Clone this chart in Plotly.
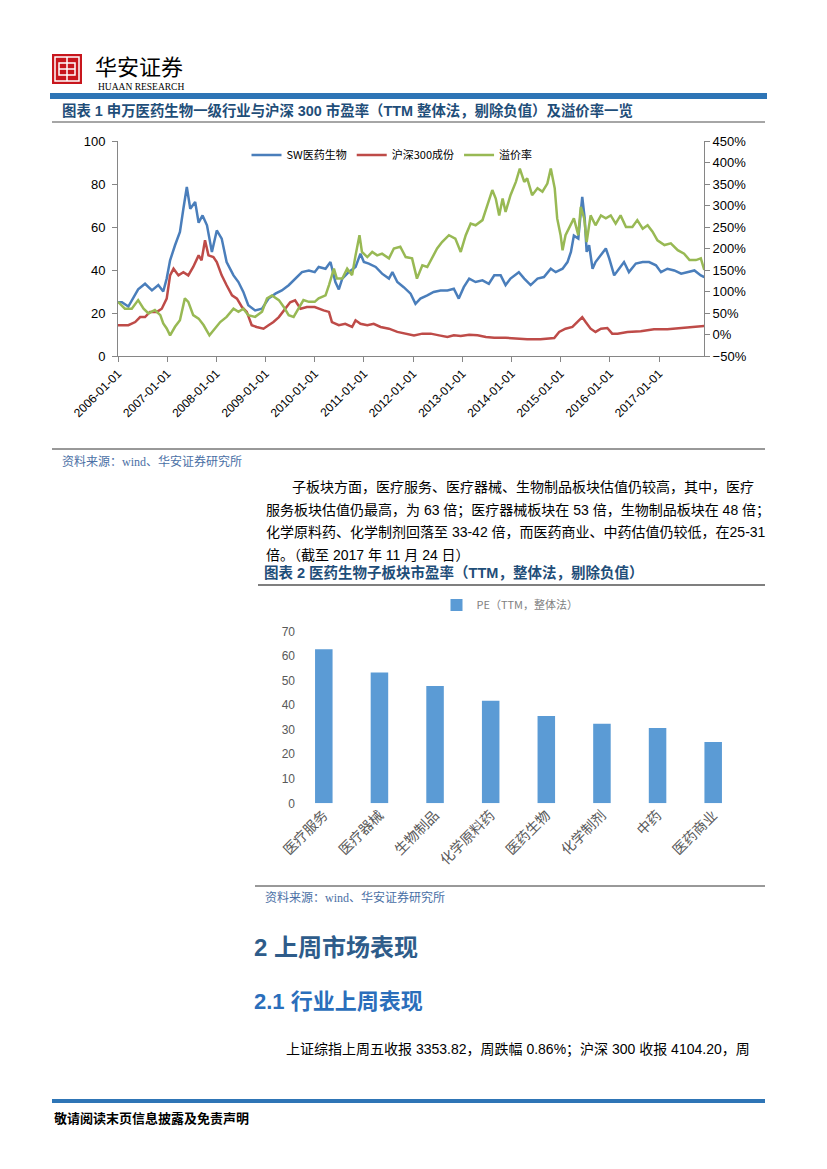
import pandas as pd
import plotly.graph_objects as go

W, H = 827, 1169
OFF = 8  # page body margin in the browser

# ---- 图表1 数据（从图上读出，x 为年份小数）----
sw_year = [2006.00, 2006.08, 2006.21, 2006.41, 2006.55, 2006.69, 2006.82, 2006.92, 2006.99, 2007.06,
           2007.16, 2007.26, 2007.33, 2007.40, 2007.47, 2007.57, 2007.64, 2007.72, 2007.81, 2007.91,
           2008.01, 2008.11, 2008.21, 2008.35, 2008.45, 2008.55, 2008.65, 2008.79, 2008.93, 2009.06,
           2009.20, 2009.33, 2009.47, 2009.61, 2009.74, 2009.88, 2010.00, 2010.08, 2010.22, 2010.32,
           2010.42, 2010.49, 2010.56, 2010.69, 2010.83, 2010.93, 2011.00, 2011.10, 2011.24, 2011.37,
           2011.51, 2011.58, 2011.68, 2011.81, 2011.95, 2012.05, 2012.15, 2012.29, 2012.42, 2012.56,
           2012.70, 2012.83, 2012.93, 2013.03, 2013.14, 2013.27, 2013.41, 2013.54, 2013.65, 2013.78,
           2013.88, 2013.98, 2014.15, 2014.26, 2014.39, 2014.53, 2014.66, 2014.80, 2014.90, 2015.04,
           2015.14, 2015.21, 2015.27, 2015.36, 2015.40, 2015.44, 2015.49, 2015.53, 2015.58, 2015.65,
           2015.71, 2015.82, 2015.92, 2015.99, 2016.09, 2016.19, 2016.29, 2016.39, 2016.53, 2016.67,
           2016.80, 2016.94, 2017.04, 2017.17, 2017.31, 2017.45, 2017.58, 2017.72, 2017.85, 2017.92]
sw_pe = [25, 25, 23, 31, 33.6, 30.5, 33, 30, 36, 44.5,
         51.5, 57.7, 68.5, 78.6, 68.5, 71.6, 62, 65.4, 60.8, 48.4,
         58.4, 54.6, 43.7, 37.5, 34.4, 29.8, 23.6, 21.2, 22, 26.7,
         29, 30.5, 32.9, 36, 39, 39.8, 39, 41.4, 40.6, 43.7,
         34.4, 31, 36, 39, 41.4, 47.6, 43.7, 43, 41.4, 38.3,
         36, 39, 34.4, 32, 29, 24.3, 26.7, 28.2, 29.8, 30.5,
         30.5, 31.3, 26.7, 32, 36, 34.4, 35.2, 33.6, 37.5, 37.5,
         33, 36, 39, 36, 33, 36, 36.7, 40.6, 39, 40.6,
         43.7, 48.4, 56, 54.6, 65.4, 74, 64, 48.4, 51.5, 40.6,
         43.7, 46.8, 50, 45.3, 37.5, 40.6, 43.7, 39, 43, 43.7,
         43.7, 42.2, 39, 40.6, 39.8, 38.3, 39, 39.8, 37.5, 36.7]

hs_year = [2006.00, 2006.21, 2006.35, 2006.45, 2006.55, 2006.65, 2006.79, 2006.89, 2006.99, 2007.06,
           2007.13, 2007.23, 2007.33, 2007.43, 2007.53, 2007.64, 2007.70, 2007.77, 2007.84, 2007.94,
           2008.01, 2008.11, 2008.21, 2008.32, 2008.42, 2008.52, 2008.62, 2008.72, 2008.82, 2008.96,
           2009.06, 2009.16, 2009.27, 2009.40, 2009.50, 2009.60, 2009.71, 2009.84, 2010.00, 2010.18,
           2010.29, 2010.35, 2010.49, 2010.62, 2010.76, 2010.83, 2010.93, 2011.07, 2011.20, 2011.34,
           2011.51, 2011.68, 2011.85, 2012.02, 2012.19, 2012.36, 2012.53, 2012.70, 2012.83, 2012.97,
           2013.14, 2013.31, 2013.48, 2013.65, 2013.88, 2014.05, 2014.32, 2014.59, 2014.87, 2014.97,
           2015.10, 2015.24, 2015.38, 2015.44, 2015.51, 2015.61, 2015.71, 2015.82, 2015.95, 2016.05,
           2016.16, 2016.36, 2016.63, 2016.90, 2017.17, 2017.45, 2017.72, 2017.92]
hs_pe = [14.3, 14.3, 15.8, 18.1, 18.1, 20.5, 20.5, 22, 26.7, 37.5,
         40.6, 37.5, 39, 37.5, 41.4, 46.8, 44.5, 53.8, 46.8, 46,
         43.7, 37.5, 32.9, 28.2, 26.7, 22.8, 20.5, 14.3, 13.5, 12.7,
         14.3, 15.8, 18.1, 22, 25, 25.9, 22, 22.8, 22.8, 21.2,
         20.5, 15.8, 14.3, 15, 13.5, 16.6, 15, 14.3, 15, 13.5,
         12.7, 11.2, 10.4, 9.6, 10.4, 10.4, 9.6, 8.8, 9.6, 9.3,
         9.9, 9.6, 8.8, 8.5, 8.5, 8.1, 7.8, 7.8, 8.4, 11.2,
         12.7, 13.5, 16.6, 18.1, 15.8, 12.7, 11.2, 12.7, 13, 10.4,
         10.4, 11.2, 11.5, 12.4, 12.4, 13, 13.5, 14]

prem_year = [2006.00, 2006.14, 2006.28, 2006.41, 2006.52, 2006.62, 2006.75, 2006.86, 2006.92, 2006.99,
             2007.06, 2007.16, 2007.26, 2007.36, 2007.43, 2007.53, 2007.64, 2007.74, 2007.86, 2007.98,
             2008.08, 2008.21, 2008.35, 2008.45, 2008.55, 2008.65, 2008.79, 2008.93, 2009.03, 2009.13,
             2009.27, 2009.37, 2009.47, 2009.57, 2009.67, 2009.77, 2009.88, 2010.00, 2010.08, 2010.22,
             2010.29, 2010.39, 2010.45, 2010.56, 2010.66, 2010.76, 2010.83, 2010.91, 2010.96, 2011.07,
             2011.17, 2011.27, 2011.37, 2011.51, 2011.61, 2011.74, 2011.85, 2011.98, 2012.08, 2012.19,
             2012.29, 2012.39, 2012.49, 2012.59, 2012.73, 2012.86, 2012.97, 2013.07, 2013.17, 2013.27,
             2013.41, 2013.51, 2013.61, 2013.68, 2013.75, 2013.82, 2013.88, 2013.98, 2014.09, 2014.17,
             2014.26, 2014.32, 2014.42, 2014.53, 2014.63, 2014.73, 2014.80, 2014.88, 2014.93, 2015.00,
             2015.04, 2015.10, 2015.21, 2015.27, 2015.36, 2015.41, 2015.48, 2015.53, 2015.61, 2015.71,
             2015.82, 2015.92, 2016.02, 2016.12, 2016.22, 2016.33, 2016.46, 2016.56, 2016.67, 2016.77,
             2016.87, 2016.97, 2017.11, 2017.24, 2017.38, 2017.51, 2017.62, 2017.75, 2017.85, 2017.92]
prem_pct = [76, 60, 60, 80, 60, 49, 57, 45, 26, 14,
            -2, 18, 33, 84, 76, 45, 37, 22, -2, 14,
            29, 41, 60, 53, 60, 45, 41, 53, 84, 91,
            80, 64, 45, 41, 60, 80, 76, 76, 84, 91,
            115, 153, 130, 130, 153, 138, 184, 231, 192, 180,
            192, 184, 188, 177, 200, 204, 180, 177, 130, 161,
            157, 177, 200, 215, 231, 223, 192, 231, 258, 254,
            266, 301, 336, 316, 277, 316, 285, 324, 355, 386,
            355, 363, 324, 340, 332, 351, 386, 340, 270, 231,
            196, 231, 254, 270, 231, 297, 270, 215, 277, 254,
            277, 270, 277, 258, 277, 250, 250, 266, 246, 254,
            239, 219, 208, 212, 196, 188, 173, 173, 177, 150]

# ---- 图表2 数据 ----
sectors = ["医疗服务", "医疗器械", "生物制品", "化学原料药", "医药生物", "化学制剂", "中药", "医药商业"]
sector_pe = [62.8, 53.4, 47.9, 41.8, 35.6, 32.4, 30.7, 25.0]

BLUE, RED, GREEN = "#4A7EBB", "#BE4B48", "#98B954"
AX = "#868686"
CJK = "Noto Sans CJK SC"
LAT = "Liberation Sans, Noto Sans CJK SC"


def to_date(v):
    y = int(v)
    return pd.Timestamp(year=y, month=1, day=1) + pd.Timedelta(days=(v - y) * 365.25)


# page pixel -> paper fraction
def px(x):
    return (x - OFF) / W


def py(y):
    return 1 - (y - OFF) / H


fig = go.Figure()

fig.add_trace(go.Scatter(x=[to_date(v) for v in sw_year], y=sw_pe, name="SW医药生物",
                         mode="lines", line=dict(color=BLUE, width=2.5), xaxis="x", yaxis="y"))
fig.add_trace(go.Scatter(x=[to_date(v) for v in hs_year], y=hs_pe, name="沪深300成份",
                         mode="lines", line=dict(color=RED, width=2.5), xaxis="x", yaxis="y"))
fig.add_trace(go.Scatter(x=[to_date(v) for v in prem_year], y=prem_pct, name="溢价率",
                         mode="lines", line=dict(color=GREEN, width=2.5), xaxis="x", yaxis="y2"))

fig.add_trace(go.Bar(x=sectors, y=sector_pe, name="PE（TTM，整体法）", marker_color="#5B9BD5",
                     xaxis="x3", yaxis="y3", legend="legend2"))

tick_years = [pd.Timestamp(year=y, month=1, day=1) for y in range(2006, 2018)]

fig.update_layout(
    template="none",
    width=W, height=H, margin=dict(l=0, r=0, t=0, b=0, pad=0, autoexpand=False),
    paper_bgcolor="white", plot_bgcolor="white",
    font=dict(family=LAT, color="#000"),
    showlegend=True,
    xaxis=dict(domain=[px(118), px(704)], type="date", automargin=False,
               range=[pd.Timestamp("2006-01-01"), pd.Timestamp("2017-12-01")],
               tickvals=tick_years, ticktext=[d.strftime("%Y-%m-%d") for d in tick_years],
               tickangle=-45, tickfont=dict(size=12, family=LAT),
               showline=True, linecolor=AX, linewidth=1, ticks="outside", ticklen=5, tickcolor=AX,
               showgrid=False, zeroline=False, anchor="y"),
    yaxis=dict(domain=[py(356), py(141)], range=[0, 100], dtick=20, automargin=False,
               tickfont=dict(size=13), showline=True, linecolor=AX, ticks="outside", ticklen=5,
               tickcolor=AX, ticklabelstandoff=4, showgrid=False, zeroline=False, anchor="x"),
    yaxis2=dict(domain=[py(356), py(141)], range=[-50, 450], dtick=50, ticksuffix="%",
                overlaying="y", side="right", anchor="x", automargin=False,
                tickfont=dict(size=13), showline=True, linecolor=AX, ticks="outside", ticklen=5,
                tickcolor=AX, showgrid=False, zeroline=False),
    xaxis3=dict(domain=[px(296), px(741)], anchor="y3", tickangle=-45, automargin=False,
                tickfont=dict(size=14, family=CJK, color="#595959"),
                showline=False, showgrid=False, ticks=""),
    yaxis3=dict(domain=[py(803.3), py(631.7)], anchor="x3", range=[0, 70], dtick=10,
                automargin=False, tickfont=dict(size=12, color="#595959"), showline=False,
                showgrid=False, zeroline=False, ticks=""),
    bargap=0.685,
    legend=dict(orientation="h", x=px(392), y=py(155), xanchor="center", yanchor="middle",
                font=dict(size=11, family=CJK), itemwidth=30, bgcolor="rgba(0,0,0,0)",
                tracegroupgap=0),
    legend2=dict(orientation="h", x=px(510), y=py(605), xanchor="center", yanchor="middle",
                 font=dict(size=11, family=CJK, color="#7F7F7F"), bgcolor="rgba(0,0,0,0)"),
)

# ---- 页面框线与标志 ----
shapes = [
    dict(type="rect", x0=52, x1=82, y0=54, y1=84, fillcolor="#C8161D", line_width=0),
    dict(type="rect", x0=55, x1=79, y0=57, y1=81, line=dict(color="white", width=1.5)),
    dict(type="rect", x0=59, x1=75, y0=63, y1=75, line=dict(color="white", width=1.5)),
    dict(type="line", x0=67, x1=67, y0=57, y1=81, line=dict(color="white", width=1.5)),
    dict(type="line", x0=59, x1=75, y0=69, y1=69, line=dict(color="white", width=1.5)),
    dict(type="rect", x0=50, x1=767, y0=93, y1=99, fillcolor="#2E75B6", line_width=0),
    dict(type="line", x0=52, x1=765, y0=122, y1=122, line=dict(color="#A6A6A6", width=2)),
    dict(type="line", x0=52, x1=765, y0=449, y1=449, line=dict(color="#333333", width=1)),
    dict(type="line", x0=258, x1=765, y0=585, y1=585, line=dict(color="#555555", width=1.5)),
    dict(type="line", x0=255, x1=765, y0=886, y1=886, line=dict(color="#333333", width=1)),
    dict(type="rect", x0=52, x1=765, y0=1099, y1=1103, fillcolor="#2E75B6", line_width=0),
]
for s in shapes:
    s.update(xref="paper", yref="paper", x0=px(s["x0"]), x1=px(s["x1"]),
             y0=py(s["y0"]), y1=py(s["y1"]))
fig.update_layout(shapes=shapes)


def note(x, y, text, size, color="#000", family=CJK, anchor="left"):
    fig.add_annotation(x=px(x), y=py(y), xref="paper", yref="paper", text=text, showarrow=False,
                       xanchor=anchor, yanchor="middle", font=dict(size=size, color=color, family=family))


note(93, 65, "华安证券", 22)
note(96, 87, "HUAAN RESEARCH", 9.5, family="Liberation Serif")
note(60, 110, "<b>图表 1 申万医药生物一级行业与沪深 300 市盈率（TTM 整体法，剔除负值）及溢价率一览</b>",
     14.4, color="#1F4E79", family=LAT)
note(60, 461, "资料来源：wind、华安证券研究所", 12, color="#4A6FA5", family="Liberation Serif, " + CJK)

body = [
    (290, 487, "子板块方面，医疗服务、医疗器械、生物制品板块估值仍较高，其中，医疗"),
    (264, 510, "服务板块估值仍最高，为 63 倍；医疗器械板块在 53 倍，生物制品板块在 48 倍；"),
    (264, 532, "化学原料药、化学制剂回落至 33-42 倍，而医药商业、中药估值仍较低，在25-31"),
    (264, 555, "倍。（截至 2017 年 11 月 24 日）"),
]
for x, y, t in body:
    note(x, y, t, 14, family=LAT)

note(262, 572, "<b>图表 2 医药生物子板块市盈率（TTM，整体法，剔除负值）</b>", 14.5, color="#1F4E79", family=LAT)
note(263, 897, "资料来源：wind、华安证券研究所", 12, color="#4A6FA5", family="Liberation Serif, " + CJK)
note(252, 947, "<b>2 上周市场表现</b>", 24, color="#2E5C8A", family=LAT)
note(252, 1001, "<b>2.1 行业上周表现</b>", 22, color="#2A6EBB", family=LAT)
note(284, 1049, "上证综指上周五收报 3353.82，周跌幅 0.86%；沪深 300 收报 4104.20，周", 14, family=LAT)
note(52, 1117, "<b>敬请阅读末页信息披露及免责声明</b>", 13)

fig.write_html("out.html")
